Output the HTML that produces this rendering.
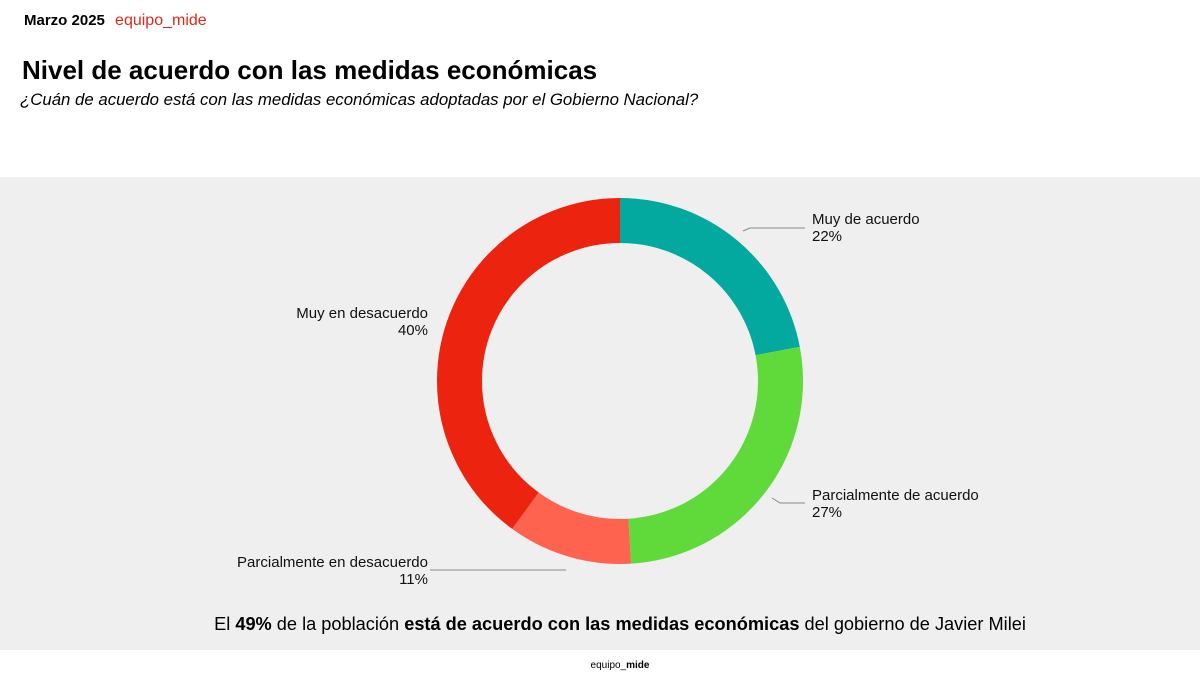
<!DOCTYPE html>
<html><head><meta charset="utf-8"><style>
body{margin:0;width:1200px;height:683px;background:#fff;font-family:"Liberation Sans",sans-serif;position:relative;overflow:hidden}
.a{position:absolute;white-space:nowrap}
</style></head><body>
<div class="a" style="left:24px;top:12px;font-size:15px;font-weight:bold;color:#000">Marzo 2025 <span style="font-weight:normal;color:#e0281a;margin-left:6px;font-size:16px">equipo_mide</span></div>
<div class="a" style="left:22px;top:55px;font-size:26px;font-weight:bold;color:#000">Nivel de acuerdo con las medidas económicas</div>
<div class="a" style="left:20px;top:90px;font-size:16.8px;font-style:italic;color:#000">¿Cuán de acuerdo está con las medidas económicas adoptadas por el Gobierno Nacional?</div>
<div class="a" style="left:0;top:177px;width:1200px;height:473px;background:#efefef"></div>
<svg class="a" style="left:0;top:0" width="1200" height="683">
<g fill="none" stroke-width="45" transform="rotate(-90 620 381)">
<circle cx="620" cy="381" r="160.5" stroke="#03a89e" stroke-dasharray="221.9 10000" stroke-dashoffset="0"/>
<circle cx="620" cy="381" r="160.5" stroke="#60d93a" stroke-dasharray="0 221.9 272.3 10000"/>
<circle cx="620" cy="381" r="160.5" stroke="#fe6350" stroke-dasharray="0 494.2 110.9 10000"/>
<circle cx="620" cy="381" r="160.5" stroke="#ec230e" stroke-dasharray="0 605.1 403.4 10000"/>
</g>
<g stroke="#888" stroke-width="1" fill="none">
<polyline points="743,231 750,228 805,228"/>
<polyline points="772,498 780,503 805,503"/>
<polyline points="566,570 430,570"/>
</g>
</svg>
<div class="a" style="left:812px;top:211px;font-size:15px;line-height:17px;color:#111">Muy de acuerdo<br>22%</div>
<div class="a" style="left:812px;top:487px;font-size:15px;line-height:17px;color:#111">Parcialmente de acuerdo<br>27%</div>
<div class="a" style="left:128px;top:554px;font-size:15px;line-height:17px;color:#111;text-align:right;width:300px">Parcialmente en desacuerdo<br>11%</div>
<div class="a" style="left:128px;top:305px;font-size:15px;line-height:17px;color:#111;text-align:right;width:300px">Muy en desacuerdo<br>40%</div>
<div class="a" style="left:0;width:1240px;text-align:center;top:614px;font-size:18.2px;color:#000">El <b>49%</b> de la población <b>está de acuerdo con las medidas económicas</b> del gobierno de Javier Milei</div>
<div class="a" style="left:0;width:1240px;text-align:center;top:660px;font-size:10px;color:#000">equipo_<b>mide</b></div>
</body></html>
